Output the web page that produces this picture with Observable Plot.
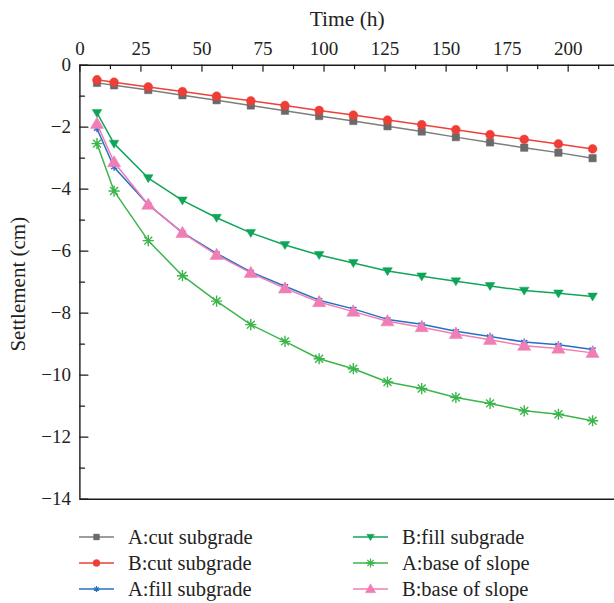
<!DOCTYPE html>
<html><head><meta charset="utf-8">
<script src="https://cdn.jsdelivr.net/npm/d3@7"></script>
<script src="https://cdn.jsdelivr.net/npm/@observablehq/plot@0.6"></script>
<style>
html,body{margin:0;padding:0;background:#fff;}
body{width:614px;height:603px;overflow:hidden;font-family:"Liberation Serif",serif;}
#wrap{position:relative;width:614px;height:603px;}
#wrap svg{display:block;}
#legend{position:absolute;left:0;top:510px;}
</style></head><body><div id="wrap"></div>
<script>
// ---- data ----
const time = [7,14,28,42,56,70,84,98,112,126,140,154,168,182,196,210];
const aCut  = [-0.57,-0.65,-0.8,-0.97,-1.13,-1.3,-1.47,-1.64,-1.8,-1.97,-2.14,-2.32,-2.49,-2.66,-2.82,-3.0];
const bCut  = [-0.47,-0.55,-0.7,-0.85,-1.0,-1.15,-1.3,-1.46,-1.61,-1.77,-1.92,-2.08,-2.24,-2.39,-2.54,-2.7];
const aFill = [-2.05,-3.29,-4.5,-5.4,-6.07,-6.67,-7.13,-7.58,-7.86,-8.2,-8.36,-8.58,-8.75,-8.93,-9.02,-9.17];
const bFill = [-1.54,-2.53,-3.64,-4.36,-4.92,-5.41,-5.8,-6.12,-6.38,-6.64,-6.81,-6.97,-7.12,-7.27,-7.36,-7.46];
const aBase = [-2.53,-4.06,-5.66,-6.79,-7.61,-8.37,-8.91,-9.47,-9.79,-10.22,-10.43,-10.72,-10.91,-11.15,-11.26,-11.47];
const bBase = [-1.89,-3.13,-4.5,-5.41,-6.12,-6.7,-7.2,-7.64,-7.95,-8.26,-8.45,-8.67,-8.86,-9.05,-9.14,-9.28];
const seriesLabels = ["A:cut subgrade","B:cut subgrade","A:fill subgrade","B:fill subgrade","A:base of slope","B:base of slope"];
const xTicks = [0,25,50,75,100,125,150,175,200];
const xMinor = [12.5,37.5,62.5,87.5,112.5,137.5,162.5,187.5,212.5];
const yTicks = [-14,-12,-10,-8,-6,-4,-2,0];
const yMinor = [-13,-11,-9,-7,-5,-3,-1];
const xTitle = "Time (h)";
const yTitle = "Settlement (cm)";

// ---- symbols ----
const sym = {
  square: {draw(c){const s=3.7;c.rect(-s,-s,2*s,2*s);}},
  circle: {draw(c){const r=4.4;c.moveTo(r,0);c.arc(0,0,r,0,2*Math.PI);}},
  star6:  {draw(c){const r=3.6;for(const a of [90,30,150]){const t=a*Math.PI/180;c.moveTo(r*Math.cos(t),r*Math.sin(t));c.lineTo(-r*Math.cos(t),-r*Math.sin(t));}}},
  triDown:{draw(c){c.moveTo(-4.8,-3.4);c.lineTo(4.8,-3.4);c.lineTo(0,4.6);c.closePath();}},
  star8:  {draw(c){const r=5.6;for(const a of [0,45,90,135]){const t=a*Math.PI/180;c.moveTo(r*Math.cos(t),r*Math.sin(t));c.lineTo(-r*Math.cos(t),-r*Math.sin(t));}}},
  triUp:  {draw(c){c.moveTo(-6.6,4.6);c.lineTo(6.6,4.6);c.lineTo(0,-6.6);c.closePath();}}
};
const series = [
  {name: seriesLabels[0], vals: aCut,  line:"#7d7d7d", mark:"#6a6a6a", symbol: sym.square, filled:true},
  {name: seriesLabels[1], vals: bCut,  line:"#ee4138", mark:"#ee3e36", symbol: sym.circle, filled:true},
  {name: seriesLabels[2], vals: aFill, line:"#2570c4", mark:"#2570c4", symbol: sym.star6, filled:false},
  {name: seriesLabels[3], vals: bFill, line:"#10a65a", mark:"#0ea558", symbol: sym.triDown, filled:true},
  {name: seriesLabels[4], vals: aBase, line:"#3bb54b", mark:"#3bb54b", symbol: sym.star8, filled:false},
  {name: seriesLabels[5], vals: bBase, line:"#f07db4", mark:"#f07db4", symbol: sym.triUp, filled:true}
];
const drawOrder = [0,1,2,3,4,5];

const tickShape = {draw(c,l){c.moveTo(0,0);c.lineTo(0,-l);}};
const FONT = 19;
const marks = [];
// frame lines
marks.push(Plot.ruleY([0], {stroke:"#1a1a1a", strokeWidth:1.4}));
marks.push(Plot.ruleY([-14], {stroke:"#1a1a1a", strokeWidth:1.4}));
marks.push(Plot.ruleX([0], {stroke:"#1a1a1a", strokeWidth:1.4}));
// inward ticks
marks.push(Plot.vector(xTicks, {x:d=>d, y:0, length:6, rotate:180, anchor:"start", shape:tickShape, stroke:"#1a1a1a", strokeWidth:1.2}));
marks.push(Plot.vector(xMinor, {x:d=>d, y:0, length:3.5, rotate:180, anchor:"start", shape:tickShape, stroke:"#1a1a1a", strokeWidth:1.2}));
marks.push(Plot.vector(yTicks, {x:0, y:d=>d, length:8, rotate:90, anchor:"start", shape:tickShape, stroke:"#1a1a1a", strokeWidth:1.2}));
marks.push(Plot.vector(yMinor, {x:0, y:d=>d, length:4.6, rotate:90, anchor:"start", shape:tickShape, stroke:"#1a1a1a", strokeWidth:1.2}));
// tick labels
marks.push(Plot.axisX(xTicks, {anchor:"top", tickSize:0, tickPadding:10, label:null, fontSize:FONT, fill:"#222"}));
marks.push(Plot.axisY(yTicks, {anchor:"left", tickSize:0, tickPadding:9, label:null, fontSize:FONT, fill:"#222"}));
// titles
marks.push(Plot.text([xTitle], {frameAnchor:"top", dy:-54, fontSize:21.5, fill:"#222", textAnchor:"middle"}));
marks.push(Plot.text([yTitle], {frameAnchor:"left", dx:-62, dy:2, rotate:-90, fontSize:21, fill:"#222", textAnchor:"middle"}));
// data
for (const i of drawOrder) {
  const s = series[i];
  const rows = time.map((t,j)=>({t, v:s.vals[j]}));
  marks.push(Plot.line(rows, {x:"t", y:"v", stroke:s.line, strokeWidth:1.5}));
  marks.push(Plot.dot(rows, {x:"t", y:"v", symbol:s.symbol, r:4,
    fill: s.filled ? s.mark : "none", stroke: s.mark, strokeWidth: s.filled ? 0.5 : 1.4}));
}

const chart = Plot.plot({
  width: 614, height: 510,
  marginLeft: 79.4, marginRight: 0, marginTop: 64.7, marginBottom: 11.3,
  x: {domain:[0,220], range:[79.4,616.5], axis:null},
  y: {domain:[-14,0], range:[498.7,64.7], axis:null},
  style: {fontFamily:'"Liberation Serif", serif', background:"#fff", overflow:"hidden"},
  marks
});
const wrap = document.getElementById("wrap");
wrap.appendChild(chart);

// legend
const lg = d3.select(wrap).append("svg").attr("id","legend").attr("width",614).attr("height",93)
  .style("font-family",'"Liberation Serif", serif');
const pos = [[79,27],[79,53],[79,79],[353,27],[353,53],[353,79]];
series.forEach((s,i)=>{
  const [x0,y0] = pos[i];
  const g = lg.append("g").attr("transform",`translate(${x0},${y0})`);
  g.append("line").attr("x1",0).attr("x2",35).attr("y1",0).attr("y2",0).attr("stroke",s.line).attr("stroke-width",1.5);
  g.append("path").attr("transform","translate(17.5,0) scale(0.8)").attr("d", d3.symbol(s.symbol,64)())
    .attr("fill", s.filled ? s.mark : "none").attr("stroke", s.mark).attr("stroke-width", s.filled?0.5:1.6);
  g.append("text").attr("x",49).attr("y",0).attr("dy","0.35em").attr("font-size",20.5).attr("fill","#222").text(s.name);
});
</script></body></html>
